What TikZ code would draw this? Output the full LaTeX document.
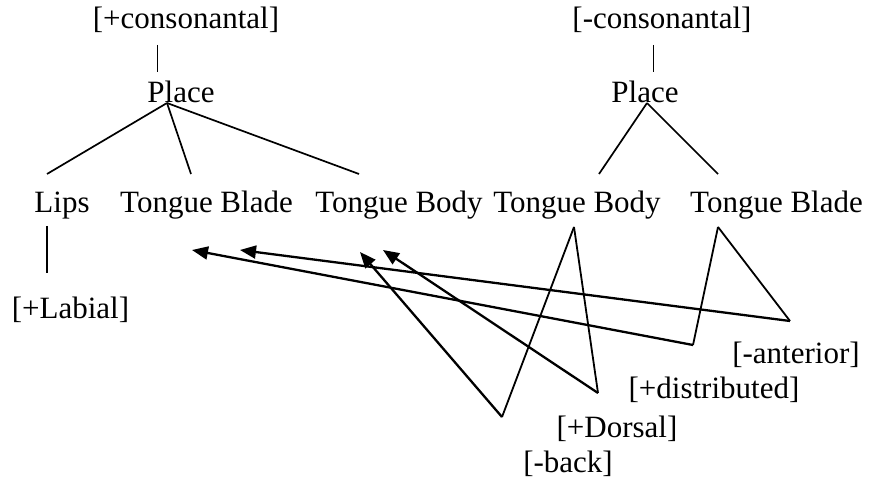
\documentclass[tikz,border=0pt]{standalone}
\usepackage{fontspec}
\setmainfont{Liberation Serif}
\usetikzlibrary{arrows.meta}
\tikzstyle{feat} = [inner sep=0pt, anchor=base, font=\fontsize{31}{37}\selectfont]
\tikzstyle{bar} = [line width=1pt]
\tikzstyle{branch} = [line width=1.7pt]
\tikzstyle{link} = [line width=1.8pt]
\tikzstyle{arrow} = [line width=2.3pt, -{Triangle[length=16pt,width=13pt]}]

\begin{document}
\begin{tikzpicture}[x=1pt, y=-1pt]
    \useasboundingbox (0,0) rectangle (869,478);

    % Left tree
    \node[feat] (cons1) at (186,29) {[+consonantal]};
    \node[feat] (place1) at (181,103) {Place};
    \node[feat] (lips) at (62,213) {Lips};
    \node[feat] (blade1) at (206.5,213) {Tongue Blade};
    \node[feat] (body1) at (399,213) {Tongue Body};
    \node[feat] (labial) at (70.5,318) {[+Labial]};

    % Right tree
    \node[feat] (cons2) at (662,29) {[-consonantal]};
    \node[feat] (place2) at (645,103) {Place};
    \node[feat] (body2) at (577,213) {Tongue Body};
    \node[feat] (blade2) at (776.5,213) {Tongue Blade};

    % Features below
    \node[feat] (anterior) at (796,363) {[-anterior]};
    \node[feat] (distrib) at (714,398) {[+distributed]};
    \node[feat] (dorsal) at (617,437) {[+Dorsal]};
    \node[feat] (back) at (568,472) {[-back]};

    % Turning points and arrow ends
    \coordinate (antv) at (790,321);
    \coordinate (distv) at (693,345);
    \coordinate (dorsv) at (598,393);
    \coordinate (backv) at (502,417);
    \coordinate (tipdist) at (192,250);
    \coordinate (tipant) at (240,250);
    \coordinate (tipback) at (360,252);
    \coordinate (tipdors) at (383,250);

    % Tree lines
    \draw[bar] ([xshift=-29pt,yshift=-16pt]cons1.base) -- ([xshift=-24pt,yshift=31pt]place1.base);
    \draw[bar] ([xshift=-9pt,yshift=-16pt]cons2.base) -- ([xshift=8pt,yshift=31pt]place2.base);
    \draw[branch] ([xshift=-14pt]place1.base) -- ([xshift=-15pt,yshift=39pt]lips.base);
    \draw[branch] ([xshift=-14pt]place1.base) -- ([xshift=-15.5pt,yshift=39pt]blade1.base);
    \draw[branch] ([xshift=-14pt]place1.base) -- ([xshift=-40pt,yshift=39pt]body1.base);
    \draw[branch] ([xshift=2pt]place2.base) -- ([xshift=22pt,yshift=39pt]body2.base);
    \draw[branch] ([xshift=2pt]place2.base) -- ([xshift=-58.5pt,yshift=39pt]blade2.base);
    \draw[branch] ([xshift=-15pt,yshift=-13pt]lips.base) -- ([xshift=-23.5pt,yshift=45pt]labial.base);

    % Spreading links
    \draw[link] ([xshift=-3pt,yshift=-14pt]body2.base) -- (backv);
    \draw[link] ([xshift=-3pt,yshift=-14pt]body2.base) -- (dorsv);
    \draw[link] ([xshift=-58.5pt,yshift=-14pt]blade2.base) -- (distv);
    \draw[link] ([xshift=-58.5pt,yshift=-14pt]blade2.base) -- (antv);
    \draw[arrow] (backv) -- (tipback);
    \draw[arrow] (dorsv) -- (tipdors);
    \draw[arrow] (distv) -- (tipdist);
    \draw[arrow] (antv) -- (tipant);
\end{tikzpicture}
\end{document}
